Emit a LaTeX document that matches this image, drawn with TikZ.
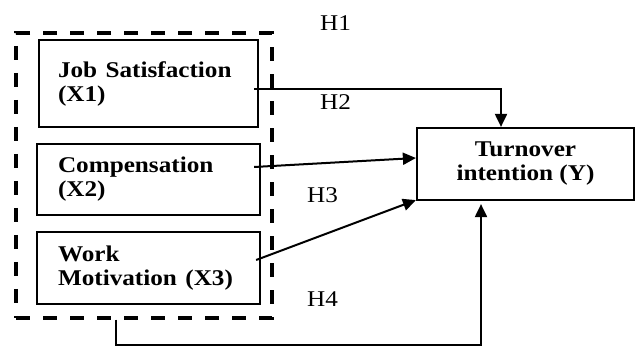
\documentclass[tikz,border=0pt]{standalone}
\usepackage{fontspec}
\setmainfont{Liberation Serif}
\usetikzlibrary{arrows.meta}
\newcommand{\sxt}[1]{\scalebox{1.12}[1]{#1}}
\begin{document}
\begin{tikzpicture}[x=1pt,y=-1pt,
  box/.style={draw, line width=2.2pt, inner sep=0pt, font=\bfseries\fontsize{22.5}{24}\selectfont},
  dbox/.style={draw, line width=3.2pt, dash pattern=on 14pt off 13pt, inner sep=0pt},
  conn/.style={line width=2pt, -{Triangle[length=13pt,width=12pt]}},
  hlab/.style={font=\fontsize{22.5}{24}\selectfont, anchor=base west, inner sep=0pt}]
\useasboundingbox (0,0) rectangle (640,347);
\node[dbox, minimum width=256, minimum height=285] (grp) at (144,175.5) {};
\node[box, minimum width=219, minimum height=87, text width=181, align=left] (b1) at (148.5,83.5)
  {\sxt{Job Satisfaction}\\\sxt{(X1)}};
\node[box, minimum width=223, minimum height=71, text width=181, align=left] (b2) at (148.5,179.5)
  {\sxt{Compensation}\\\sxt{(X2)}};
\node[box, minimum width=223, minimum height=72, text width=181, align=left] (b3) at (148.5,268)
  {\sxt{Work}\\\sxt{Motivation (X3)}};
\node[box, minimum width=217, minimum height=72, align=center] (y) at (525.5,164)
  {\sxt{Turnover}\\\sxt{intention (Y)}};
\node[hlab] (h1) at (320,31) {\sxt{H1}};
\node[hlab] (h2) at (320,110) {\sxt{H2}};
\node[hlab] (h3) at (307,203) {\sxt{H3}};
\node[hlab] (h4) at (307,307) {\sxt{H4}};
\coordinate (c1) at (501,89);
\coordinate (c4a) at (116,345.5);
\coordinate (c4b) at (481,345.5);
\draw[conn] ([xshift=-5pt,yshift=-5.5pt]b1.east) -- (c1) -- (y.north -| c1);
\draw[conn] ([xshift=-7pt,yshift=12.5pt]b2.east) -- ([yshift=6pt]y.west);
\draw[conn] ([xshift=-5pt,yshift=8pt]b3.east) -- ([yshift=1pt]y.south west);
\draw[conn] (grp.south -| c4a) -- (c4a) -- (c4b) -- ([yshift=-3pt]y.south -| c4b);
\end{tikzpicture}
\end{document}
